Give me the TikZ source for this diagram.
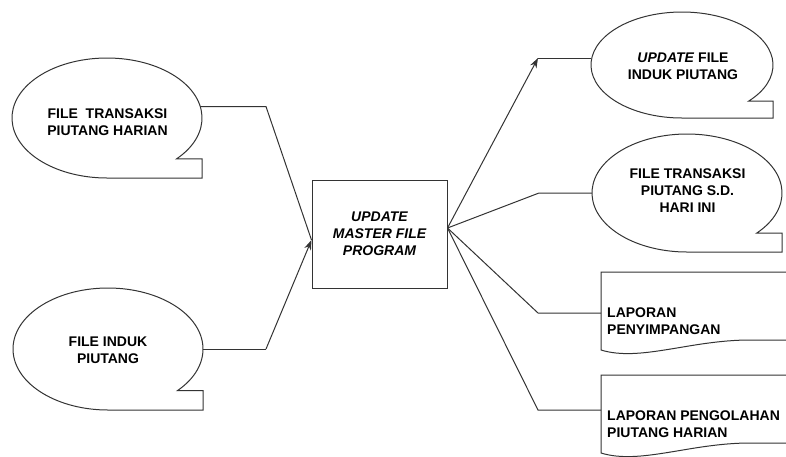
\documentclass[tikz,border=0pt]{standalone}
\usepackage{fontspec}
\setmainfont{Liberation Sans}
\usetikzlibrary{arrows.meta,shapes.geometric,calc}
\newcommand\tapeshape[4]{% cx cy rx ry
  \draw[ln,line join=miter] ([shift={(#1,#2)}]-43:#3pt and #4pt) coordinate (tmpn)
    arc[start angle=-43,end angle=270,x radius=#3pt,y radius=#4pt]
    -- ++(#3pt,0) |- (tmpn) -- cycle;}
\newcommand\docshape[1]{% top y
  \draw[ln] (795,#1) -- (601,#1) -- (601,#1+78)
    .. controls (640,#1+90) and (690,#1+68) .. (750,#1+68) -- (795,#1+68);}
\begin{document}
\begin{tikzpicture}[x=1pt,y=-1pt,
  ln/.style={draw=black!80, line width=1pt},
  txt/.style={font=\fontsize{14}{17}\selectfont\bfseries, align=center, inner sep=0pt, text=black},
  tapeborder/.style={ellipse, inner sep=0pt},
  arr/.style={ln, -{Stealth[length=10pt,width=7pt]}},
]
\useasboundingbox (0,0) rectangle (786,456);

% tape-shaped files
\tapeshape{107}{118}{95}{60}
\node[tapeborder, minimum width=190pt, minimum height=120pt] (e1) at (107,118) {};
\node[txt] (t1) at (107.5,122) {FILE\ \ TRANSAKSI\\PIUTANG HARIAN};

\tapeshape{108}{349}{95}{61}
\node[tapeborder, minimum width=190pt, minimum height=122pt] (e2) at (108,349) {};
\node[txt] (t2) at (108,350) {FILE INDUK\\PIUTANG};

\tapeshape{682}{65}{91}{53}
\node[tapeborder, minimum width=182pt, minimum height=106pt] (e3) at (682,65) {};
\node[txt] (t3) at (683,66) {\textit{UPDATE} FILE\\INDUK PIUTANG};

\tapeshape{687}{193}{95}{59}
\node[tapeborder, minimum width=190pt, minimum height=118pt] (e4) at (687,193) {};
\node[txt] (t4) at (687.5,191) {FILE TRANSAKSI\\PIUTANG S.D.\\HARI INI};

% process box
\node[ln, txt, font=\fontsize{14}{17}\selectfont\bfseries\itshape,
      minimum width=135pt, minimum height=108pt] (box) at (379.5,234)
      {UPDATE\\MASTER FILE\\PROGRAM};

% documents
\docshape{272}
\node[inner sep=0, minimum width=191pt, minimum height=78pt, anchor=north west] (d1) at (601,272) {};
\node[txt, align=left, anchor=west] (t5) at (607,321) {LAPORAN\\PENYIMPANGAN};

\docshape{375}
\node[inner sep=0, minimum width=191pt, minimum height=78pt, anchor=north west] (d2) at (601,375) {};
\node[txt, align=left, anchor=west] (t6) at (607,424) {LAPORAN PENGOLAHAN\\PIUTANG HARIAN};

% connector points
\coordinate (in) at ([yshift=-6pt]box.west);
\coordinate (out) at ([yshift=6pt]box.east);
\coordinate (c1) at (266,107);
\coordinate (c2) at (266,349);
\coordinate (c3) at (538,58);
\coordinate (c4) at (539,193);
\coordinate (c5) at (538,313);
\coordinate (c6) at (538,410);

% inputs
\draw[ln] (e1.7) -- (e1.7 -| c1) -- (in);
\draw[ln] (e2.east) -- (e2.east -| c2) coordinate (c2b);
\draw[arr] (c2b) -- (in);

% outputs
\draw[arr] (out) -- (c3);
\draw[ln] (c3) -- (c3 -| e3.west);
\draw[ln] (out) -- (c4) -- (c4 -| e4.west);
\draw[ln] (out) -- (c5) -- (c5 -| d1.west);
\draw[ln] (out) -- (c6) -- (c6 -| d2.west);
\end{tikzpicture}
\end{document}
